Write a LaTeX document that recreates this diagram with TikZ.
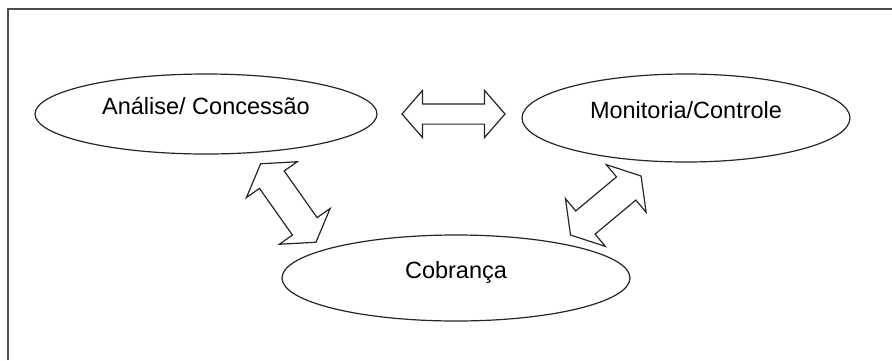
\documentclass[tikz,border=0pt]{standalone}
\usepackage{fontspec}
\setmainfont{Liberation Sans}
\usetikzlibrary{shapes.geometric, shapes.arrows}

\begin{document}
\begin{tikzpicture}[x=1pt, y=-1pt,
  elipse/.style={ellipse, draw=black!85, line width=1.2pt, inner sep=0pt,
    text height=12pt, text depth=12pt, font=\fontsize{23.5}{28}\selectfont},
  seta/.style={double arrow, draw=black!85, line width=1.2pt, fill=white, inner xsep=0pt}]
\useasboundingbox (0,0) rectangle (892,360);
\draw[black!70, line width=2.2pt] (8,360) |- (892,9);
\node[elipse, minimum width=342pt, minimum height=80pt] (ana) at (206,114) {Análise/ Concessão};
\node[elipse, minimum width=328pt, minimum height=88pt] (mon) at (686,118) {Monitoria/Controle};
\node[elipse, minimum width=348pt, minimum height=86pt] (cob) at (456,278) {Cobrança};
\node[seta, inner ysep=9.5pt, minimum height=103pt, double arrow head extend=13.5pt,
  double arrow tip angle=98] (anamon) at (453.5,114) {};
\node[seta, inner ysep=14.5pt, minimum height=96pt, double arrow head extend=16pt,
  double arrow tip angle=116, rotate=-54.8] (anacob) at (288.3,203) {};
\node[seta, inner ysep=14.5pt, minimum height=92pt, double arrow head extend=16pt,
  double arrow tip angle=116, rotate=39.9] (moncob) at (605.8,205.5) {};
\end{tikzpicture}
\end{document}
